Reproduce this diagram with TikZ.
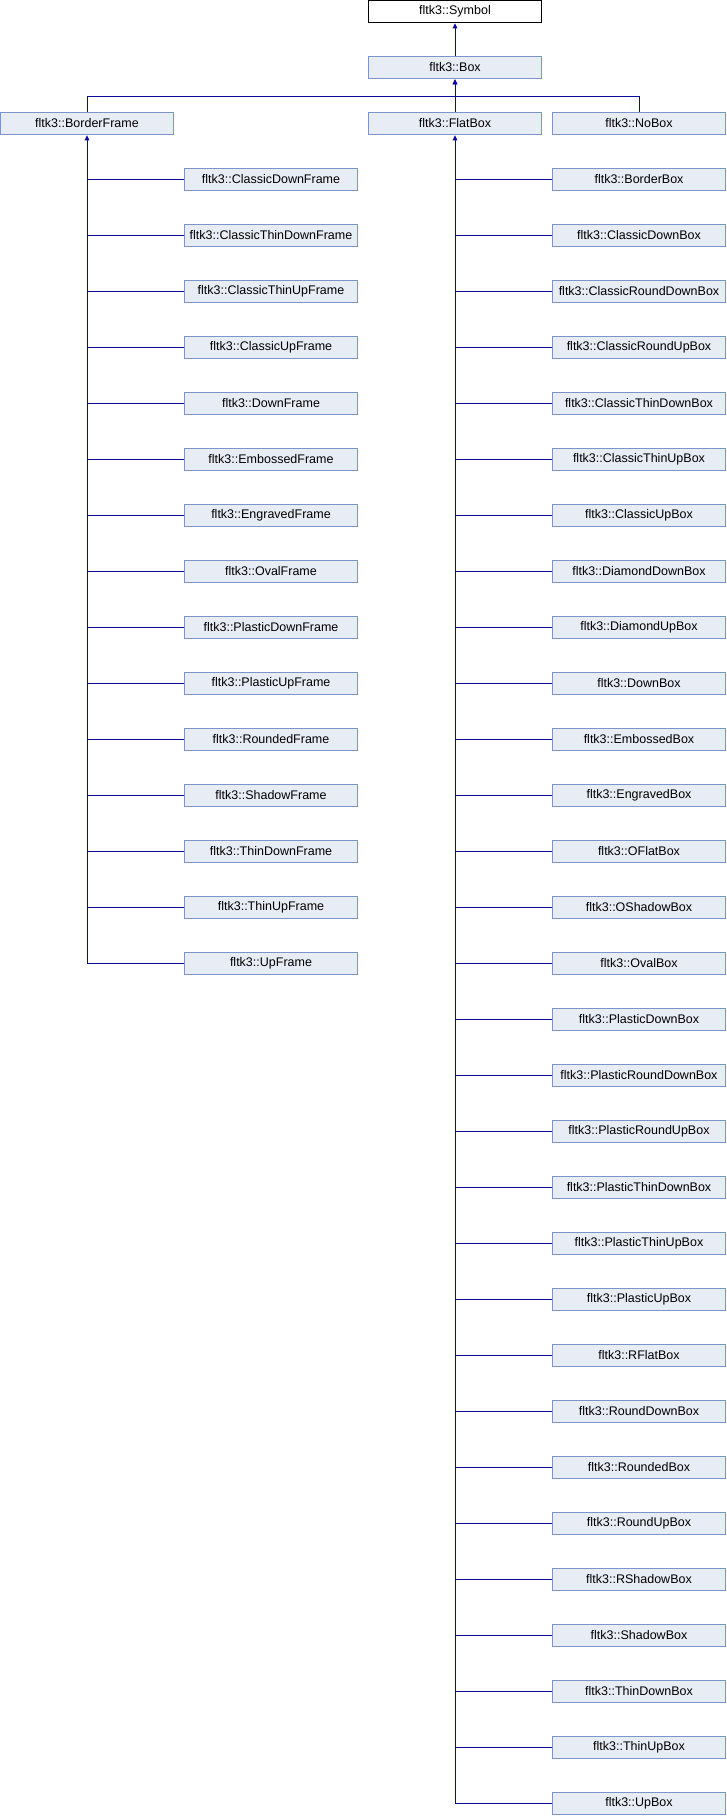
\documentclass[tikz,border=0pt]{standalone}
\usepackage{fontspec}
\setmainfont{Liberation Sans}
\usetikzlibrary{arrows.meta}
\definecolor{boxfill}{HTML}{E8ECF5}
\definecolor{boxdraw}{HTML}{7D94C8}
\definecolor{edge}{HTML}{0A0A9A}
\tikzset{
  cls/.style={draw=boxdraw, fill=boxfill, line width=1pt, minimum width=173pt, minimum height=22.5pt, inner sep=0pt, font=\fontsize{12.5}{14}\selectfont, anchor=center},
  root/.style={cls, draw=black, fill=white},
  edgeline/.style={draw=edge, line width=1pt},
  arr/.style={edgeline, -{Triangle[length=5pt,width=4.5pt]}}
}
\begin{document}
\begin{tikzpicture}[x=1pt,y=-1pt]
\useasboundingbox (0,0) rectangle (726,1816);
\node[root] (sym) at (455,11.5) {fltk3::Symbol};
\node[cls] (box) at (455,67.5) {fltk3::Box};
\node[cls] (bf) at (87,123.5) {fltk3::BorderFrame};
\node[cls] (fb) at (455,123.5) {fltk3::FlatBox};
\node[cls] (nb) at (639,123.5) {fltk3::NoBox};
\coordinate (bus) at (455,96);
\draw[arr] (box.north) -- (sym.south);
\draw[arr] (fb.north) -- (box.south);
\draw[arr] (bf.north) |- (bus) -- (box.south);
\draw[edgeline] (nb.north) |- (bus);
% left column
\foreach \n [count=\k from 0] in {ClassicDownFrame,ClassicThinDownFrame,ClassicThinUpFrame,ClassicUpFrame,DownFrame,EmbossedFrame,EngravedFrame,OvalFrame,PlasticDownFrame,PlasticUpFrame,RoundedFrame,ShadowFrame,ThinDownFrame,ThinUpFrame,UpFrame}{
  \node[cls] (L\k) at (271,179.5+56*\k) {fltk3::\n};
  \draw[edgeline] (L\k.west) -- (L\k.west -| bf.south);
}
\draw[arr] (L14.west) -| (bf.south);
% right column
\foreach \n [count=\k from 0] in {BorderBox,ClassicDownBox,ClassicRoundDownBox,ClassicRoundUpBox,ClassicThinDownBox,ClassicThinUpBox,ClassicUpBox,DiamondDownBox,DiamondUpBox,DownBox,EmbossedBox,EngravedBox,OFlatBox,OShadowBox,OvalBox,PlasticDownBox,PlasticRoundDownBox,PlasticRoundUpBox,PlasticThinDownBox,PlasticThinUpBox,PlasticUpBox,RFlatBox,RoundDownBox,RoundedBox,RoundUpBox,RShadowBox,ShadowBox,ThinDownBox,ThinUpBox,UpBox}{
  \node[cls] (R\k) at (639,179.5+56*\k) {fltk3::\n};
  \draw[edgeline] (R\k.west) -- (R\k.west -| fb.south);
}
\draw[arr] (R29.west) -| (fb.south);
\end{tikzpicture}
\end{document}
